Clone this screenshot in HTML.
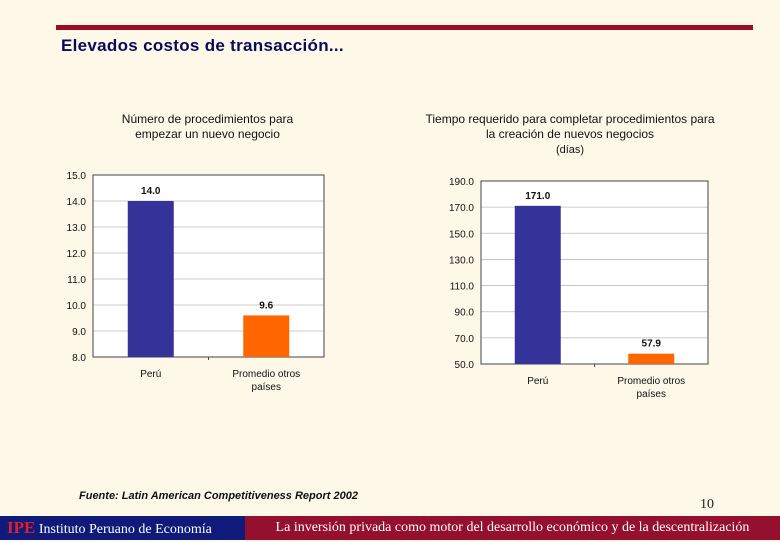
<!DOCTYPE html>
<html><head><meta charset="utf-8"><style>
body{margin:0;width:780px;height:540px;background:#fdf8e8;position:relative;overflow:hidden;font-family:"Liberation Sans",sans-serif}
.abs{position:absolute}
</style></head><body>
<div class="abs" style="left:56px;top:25px;width:697px;height:5px;background:#9b0a26"></div>
<div class="abs" style="left:61px;top:36px;font-size:17px;font-weight:bold;color:#0a0a5a;letter-spacing:0.3px">Elevados costos de transacción...</div>
<div class="abs" style="left:60px;top:112px;width:295px;text-align:center;font-size:12px;color:#111;line-height:15px">Número de procedimientos para<br>empezar un nuevo negocio</div>
<div class="abs" style="left:395px;top:112px;width:350px;text-align:center;font-size:12px;color:#111;line-height:15px">Tiempo requerido para completar procedimientos para<br>la creación de nuevos negocios<br><span style="font-size:11px">(días)</span></div>
<svg class="abs" style="left:0;top:0" width="780" height="540" id="svg"></svg>
<div class="abs" style="left:79px;top:490px;font-size:11px;font-style:italic;font-weight:bold;color:#111">Fuente: Latin American Competitiveness Report 2002</div>
<div class="abs" style="left:700px;top:497px;font-size:14px;font-family:'Liberation Serif',serif;color:#222">10</div>
<div class="abs" style="left:0;top:516px;width:245px;height:24px;background:#0f1a7a;color:#fff;font-family:'Liberation Serif',serif;font-size:14px;line-height:24px;padding-left:7px;box-sizing:border-box"><b style="color:#e0202a;font-size:17px">IPE</b> Instituto Peruano de Economía</div>
<div class="abs" style="left:245px;top:516px;width:535px;height:24px;background:#95102e;color:#fff;font-family:'Liberation Serif',serif;font-size:14px;line-height:24px;text-align:center">La inversión privada como motor del desarrollo económico y de la descentralización</div>
<script>
const categories=["Perú","Promedio otros|países"];
const c1Values=[14.0,9.6];
const c1Ticks=[8,9,10,11,12,13,14,15];
const c2Values=[171.0,57.9];
const c2Ticks=[50,70,90,110,130,150,170,190];
const colors=["#333399","#ff6600"];
const NS="http://www.w3.org/2000/svg";
const svg=document.getElementById('svg');
function mk(t,a,p){const e=document.createElementNS(NS,t);for(const k in a)e.setAttribute(k,a[k]);(p||svg).appendChild(e);return e;}
function chart(id,x0,x1,y0,y1,ticks,vals){
 const g=mk('g',{});
 
 
 const mn=ticks[0],mx=ticks[ticks.length-1];
 const y=v=>y1-(v-mn)/(mx-mn)*(y1-y0);
 mk('rect',{x:x0,y:y0,width:x1-x0,height:y1-y0,fill:'#fff'},g);
 ticks.forEach(t=>{
  const l=mk('line',{x1:x0,x2:x1,y1:y(t),y2:y(t),stroke:'#bbb','stroke-width':0.8},g);
  
  
  const tx=mk('text',{x:x0-7,y:y(t)+4,'text-anchor':'end','font-size':10,fill:'#111'},g);
  tx.textContent=t.toFixed(1);
  
  
 });
 mk('rect',{x:x0,y:y0,width:x1-x0,height:y1-y0,fill:'none',stroke:'#444','stroke-width':1},g);
 const mid=(x0+x1)/2;
 mk('line',{x1:mid,x2:mid,y1:y1,y2:y1+3,stroke:'#444'},g);
 const band=(x1-x0)/2;
 vals.forEach((v,i)=>{
  const cx=x0+band*(i+0.5),bw=46;
  const r=mk('rect',{x:cx-bw/2,y:y(v),width:bw,height:y1-y(v),fill:colors[i]},g);
  
  
  const lb=mk('text',{x:cx,y:y(v)-7,'text-anchor':'middle','font-size':10,'font-weight':'bold',fill:'#111'},g);
  lb.textContent=v.toFixed(1);
  
  
  categories[i].split('|').forEach((s,j)=>{
   const c=mk('text',{x:cx,y:y1+20+j*13,'text-anchor':'middle','font-size':10,fill:'#111'},g);
   c.textContent=s;
   
   
  });
 });
}
chart('chart-procedures',93,324,175,357,c1Ticks,c1Values);
chart('chart-days',481,708,181,364,c2Ticks,c2Values);
</script>
</body></html>
